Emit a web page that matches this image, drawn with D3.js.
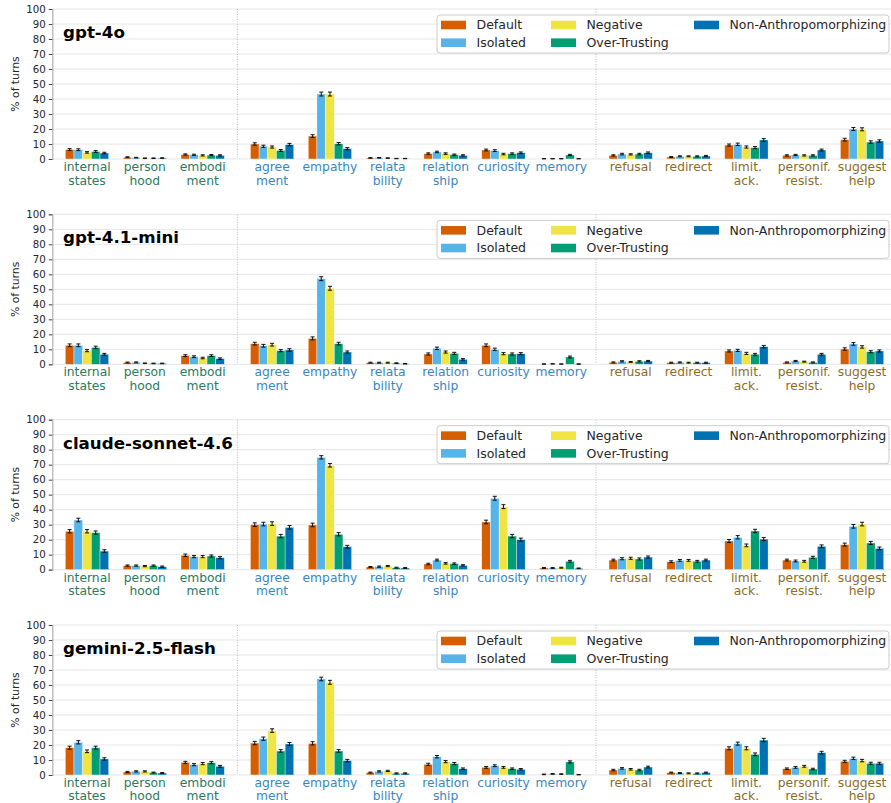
<!DOCTYPE html>
<html>
<head>
<meta charset="utf-8">
<script src="https://cdn.jsdelivr.net/npm/d3@7"></script>
<style>
body { margin: 0; background: #fff; }
text { font-family: "DejaVu Sans", sans-serif; }
</style>
</head>
<body>
<svg id="chart" width="891" height="803"></svg>
<script>
var categories = [
    ['internal', 'states'], ['person', 'hood'], ['embodi', 'ment'],
    ['agree', 'ment'], ['empathy'], ['relata', 'bility'], ['relation', 'ship'], ['curiosity'], ['memory'],
    ['refusal'], ['redirect'], ['limit.', 'ack.'], ['personif.', 'resist.'], ['suggest', 'help']
];
var categoryGroup = [0, 0, 0, 1, 1, 1, 1, 1, 1, 2, 2, 2, 2, 2];
var groupColors = ['#2a7b5f', '#3a87bd', '#8d6c1e'];

var conditions = ['Default', 'Isolated', 'Negative', 'Over-Trusting', 'Non-Anthropomorphizing'];
var conditionColors = ['#D55E00', '#56B4E9', '#F0E442', '#009E73', '#0072B2'];

var models = ['gpt-4o', 'gpt-4.1-mini', 'claude-sonnet-4.6', 'gemini-2.5-flash'];

var yTicks = [0, 10, 20, 30, 40, 50, 60, 70, 80, 90, 100];

// % of turns, one row per category, columns in condition order
var gpt4oValues = [
    [6.3, 6.2, 4.4, 5.0, 4.0], [1.2, 0.9, 0.5, 0.5, 0.6], [3.0, 2.8, 2.4, 2.6, 2.4],
    [10.0, 8.5, 8.0, 5.7, 9.6], [15.3, 43.3, 43.3, 10.2, 6.9], [0.7, 0.8, 0.6, 0.3, 0.3],
    [3.6, 4.7, 3.6, 2.9, 2.4], [6.0, 5.6, 3.3, 3.6, 4.2], [0.2, 0.2, 0.2, 2.7, 0.2],
    [2.4, 3.3, 3.1, 3.3, 4.2], [1.3, 1.8, 1.8, 1.8, 2.0], [9.3, 9.8, 8.0, 7.6, 12.7],
    [2.4, 2.7, 2.4, 2.4, 6.0], [12.9, 20.0, 19.8, 11.3, 12.0]
];
var gpt4oErrors = [
    [0.6, 0.6, 0.5, 0.6, 0.5], [0.3, 0.2, 0.2, 0.2, 0.2], [0.4, 0.4, 0.4, 0.4, 0.4],
    [0.8, 0.7, 0.7, 0.6, 0.8], [0.9, 1.3, 1.3, 0.8, 0.7], [0.2, 0.2, 0.2, 0.1, 0.1],
    [0.5, 0.5, 0.5, 0.4, 0.4], [0.6, 0.6, 0.5, 0.5, 0.5], [0.1, 0.1, 0.1, 0.4, 0.1],
    [0.4, 0.5, 0.4, 0.5, 0.5], [0.3, 0.3, 0.3, 0.3, 0.4], [0.7, 0.8, 0.7, 0.7, 0.9],
    [0.4, 0.4, 0.4, 0.4, 0.6], [0.9, 1.0, 1.0, 0.8, 0.8]
];

var gpt41miniValues = [
    [12.7, 12.7, 9.1, 11.3, 6.7], [1.2, 1.3, 0.7, 0.6, 0.6], [5.8, 5.1, 4.2, 5.8, 3.8],
    [13.8, 12.4, 13.1, 9.1, 9.6], [17.3, 57.1, 50.7, 13.8, 8.2], [1.1, 1.1, 1.1, 0.8, 0.4],
    [6.9, 10.7, 8.2, 7.3, 3.3], [12.7, 10.0, 7.1, 6.9, 7.1], [0.2, 0.3, 0.2, 4.9, 0.2],
    [1.3, 2.0, 1.6, 2.0, 2.2], [1.1, 1.3, 1.1, 1.1, 1.1], [8.9, 9.3, 7.3, 6.7, 11.8],
    [1.3, 2.2, 1.8, 1.3, 6.7], [10.2, 13.6, 11.6, 8.4, 8.9]
];
var gpt41miniErrors = [
    [0.9, 0.9, 0.7, 0.8, 0.6], [0.3, 0.3, 0.2, 0.2, 0.2], [0.6, 0.6, 0.5, 0.6, 0.5],
    [0.9, 0.9, 0.9, 0.7, 0.8], [1.0, 1.3, 1.3, 0.9, 0.7], [0.3, 0.3, 0.3, 0.2, 0.2],
    [0.7, 0.8, 0.7, 0.7, 0.5], [0.9, 0.8, 0.7, 0.7, 0.7], [0.1, 0.1, 0.1, 0.6, 0.1],
    [0.3, 0.4, 0.3, 0.4, 0.4], [0.3, 0.3, 0.3, 0.3, 0.3], [0.7, 0.7, 0.7, 0.6, 0.8],
    [0.3, 0.4, 0.3, 0.3, 0.6], [0.8, 0.9, 0.8, 0.7, 0.7]
];

var claudeValues = [
    [25.6, 33.1, 25.6, 24.7, 12.4], [2.7, 2.7, 2.4, 2.7, 2.0], [9.6, 8.7, 8.7, 9.1, 8.0],
    [30.0, 30.4, 30.7, 22.4, 28.2], [29.8, 74.9, 69.6, 23.6, 15.3], [1.8, 2.0, 2.4, 1.3, 1.1],
    [3.8, 6.4, 4.2, 4.0, 2.9], [31.8, 47.6, 42.0, 22.4, 20.0], [1.1, 1.1, 1.3, 5.6, 0.9],
    [6.4, 7.3, 7.6, 7.1, 8.4], [5.3, 6.2, 6.2, 5.6, 6.4], [19.1, 21.6, 16.2, 25.8, 20.4],
    [6.4, 5.8, 5.6, 8.2, 15.6], [16.7, 28.9, 30.4, 17.8, 14.2]
];
var claudeErrors = [
    [1.1, 1.2, 1.1, 1.1, 0.9], [0.4, 0.4, 0.4, 0.4, 0.4], [0.8, 0.7, 0.7, 0.7, 0.7],
    [1.2, 1.2, 1.2, 1.1, 1.2], [1.2, 1.1, 1.2, 1.1, 0.9], [0.3, 0.4, 0.4, 0.3, 0.3],
    [0.5, 0.6, 0.5, 0.5, 0.4], [1.2, 1.3, 1.3, 1.1, 1.0], [0.3, 0.3, 0.3, 0.6, 0.2],
    [0.6, 0.7, 0.7, 0.7, 0.7], [0.6, 0.6, 0.6, 0.6, 0.6], [1.0, 1.1, 0.9, 1.1, 1.0],
    [0.6, 0.6, 0.6, 0.7, 0.9], [1.0, 1.2, 1.2, 1.0, 0.9]
];

var geminiValues = [
    [18.2, 21.8, 15.8, 18.2, 10.7], [2.0, 2.4, 2.4, 1.6, 1.3], [8.4, 6.9, 7.6, 8.2, 5.8],
    [21.3, 24.2, 29.6, 16.0, 20.7], [21.1, 64.0, 61.8, 16.0, 9.6], [1.6, 2.4, 2.7, 1.1, 1.1],
    [7.1, 12.2, 8.9, 7.6, 4.2], [5.1, 6.2, 5.1, 4.2, 3.8], [0.4, 0.7, 0.6, 8.7, 0.2],
    [3.3, 4.4, 3.8, 3.3, 5.3], [1.6, 1.3, 1.1, 1.1, 1.6], [17.8, 20.9, 17.8, 13.8, 23.3],
    [4.2, 5.1, 5.8, 4.0, 14.9], [9.1, 11.1, 9.6, 7.8, 7.8]
];
var geminiErrors = [
    [1.0, 1.1, 0.9, 1.0, 0.8], [0.4, 0.4, 0.4, 0.3, 0.3], [0.7, 0.7, 0.7, 0.7, 0.6],
    [1.1, 1.1, 1.2, 0.9, 1.0], [1.1, 1.2, 1.3, 0.9, 0.8], [0.3, 0.4, 0.4, 0.3, 0.3],
    [0.7, 0.8, 0.7, 0.7, 0.5], [0.6, 0.6, 0.6, 0.5, 0.5], [0.2, 0.2, 0.2, 0.7, 0.1],
    [0.5, 0.5, 0.5, 0.5, 0.6], [0.3, 0.3, 0.3, 0.3, 0.3], [1.0, 1.0, 1.0, 0.9, 1.1],
    [0.5, 0.6, 0.6, 0.5, 0.9], [0.7, 0.8, 0.8, 0.7, 0.7]
];

var panelValues = [gpt4oValues, gpt41miniValues, claudeValues, geminiValues];
var panelErrors = [gpt4oErrors, gpt41miniErrors, claudeErrors, geminiErrors];

var svg = d3.select('#chart');

var barWidth = 0.15;
// category position: index plus a gap after each group
function catPos(i) { return i + 0.2 * categoryGroup[i]; }

var x = d3.scaleLinear().domain([-0.6, 13.9]).range([52.3, 891]);
var plotLeft = x.range()[0], plotRight = x.range()[1];

models.forEach(function(model, p) {
    var top = 9 + p * 205.33;
    var y = d3.scaleLinear().domain([0, 100]).range([top + 150, top]);
    var g = svg.append('g');

    // grid
    g.selectAll('.grid')
        .data(yTicks)
        .enter().append('line')
        .attr('x1', plotLeft).attr('x2', plotRight)
        .attr('y1', function(d) { return y(d); })
        .attr('y2', function(d) { return y(d); })
        .style('stroke', '#e6e6e6')
        .style('stroke-width', 1);

    // group separators
    [2.6, 8.8].forEach(function(s) {
        g.append('line')
            .attr('x1', x(s)).attr('x2', x(s))
            .attr('y1', y(100)).attr('y2', y(0))
            .style('stroke', '#aaa')
            .style('stroke-width', 0.8)
            .style('stroke-dasharray', '1,1.5');
    });

    // y axis
    var axis = g.append('g')
        .attr('transform', 'translate(' + plotLeft + ',0)')
        .call(d3.axisLeft(y).tickValues(yTicks).tickSize(3.5).tickPadding(3));
    axis.select('.domain').style('stroke', '#b0b0b0').style('stroke-width', 1.2);
    axis.selectAll('.tick line').style('stroke', '#444');
    axis.selectAll('.tick text')
        .style('font-family', '"DejaVu Sans", sans-serif')
        .style('font-size', '10.2px')
        .style('fill', '#262626');

    g.append('text')
        .attr('transform', 'translate(19,' + (top + 75) + ') rotate(-90)')
        .attr('text-anchor', 'middle')
        .style('font-size', '10.8px')
        .style('fill', '#262626')
        .text('% of turns');

    // bars
    var cells = [];
    panelValues[p].forEach(function(row, i) {
        row.forEach(function(v, k) {
            cells.push({cat: i, cond: k, value: v, err: panelErrors[p][i][k]});
        });
    });

    g.selectAll('.bar')
        .data(cells)
        .enter().append('rect')
        .attr('class', 'bar')
        .attr('x', function(d) { return x(catPos(d.cat) + (d.cond - 2.5) * barWidth); })
        .attr('width', x(barWidth) - x(0))
        .attr('y', function(d) { return y(d.value); })
        .attr('height', function(d) { return y(0) - y(d.value); })
        .style('fill', function(d) { return conditionColors[d.cond]; })
        .style('stroke', '#fff')
        .style('stroke-width', 0.4);

    var eb = g.selectAll('.err')
        .data(cells)
        .enter().append('g')
        .attr('transform', function(d) {
            return 'translate(' + x(catPos(d.cat) + (d.cond - 2) * barWidth) + ',0)';
        });
    eb.append('line')
        .attr('y1', function(d) { return y(Math.max(0, d.value - d.err)); })
        .attr('y2', function(d) { return y(d.value + d.err); });
    eb.append('line')
        .attr('x1', -2).attr('x2', 2)
        .attr('y1', function(d) { return y(d.value + d.err); })
        .attr('y2', function(d) { return y(d.value + d.err); });
    eb.append('line')
        .attr('x1', -2).attr('x2', 2)
        .attr('y1', function(d) { return y(Math.max(0, d.value - d.err)); })
        .attr('y2', function(d) { return y(Math.max(0, d.value - d.err)); });
    eb.selectAll('line').style('stroke', '#111').style('stroke-width', 1);

    // category labels
    var labels = g.selectAll('.cat')
        .data(categories)
        .enter().append('text')
        .attr('text-anchor', 'middle')
        .attr('x', function(d, i) { return x(catPos(i)); })
        .attr('y', top + 162)
        .style('font-size', '12.3px')
        .style('fill', function(d, i) { return groupColors[categoryGroup[i]]; });
    labels.selectAll('tspan')
        .data(function(d) { return d; })
        .enter().append('tspan')
        .attr('x', function() { return this.parentNode.getAttribute('x'); })
        .attr('dy', function(d, j) { return j === 0 ? 0 : 13.5; })
        .text(function(d) { return d; });

    // model title
    g.append('text')
        .attr('x', 63)
        .attr('y', top + 29)
        .style('font-size', '16.7px')
        .style('font-weight', 'bold')
        .style('fill', '#000')
        .text(model);

    // legend
    var lg = g.append('g').attr('transform', 'translate(437,' + (top + 6) + ')');
    lg.append('rect')
        .attr('width', 452).attr('height', 38)
        .attr('rx', 3)
        .style('fill', '#fff')
        .style('fill-opacity', 0.85)
        .style('stroke', '#cccccc')
        .style('stroke-width', 1);
    var colX = [4, 114, 257];
    conditions.forEach(function(c, k) {
        var col = Math.floor(k / 2), row = k % 2;
        var item = lg.append('g')
            .attr('transform', 'translate(' + colX[col] + ',' + (10 + row * 17.7) + ')');
        item.append('rect')
            .attr('x', 0).attr('y', -4.3)
            .attr('width', 25).attr('height', 8.6)
            .style('fill', conditionColors[k]);
        item.append('text')
            .attr('x', 35.5).attr('y', 4.4)
            .style('font-size', '12.5px')
            .style('fill', '#262626')
            .text(c);
    });
});
</script>
</body>
</html>
